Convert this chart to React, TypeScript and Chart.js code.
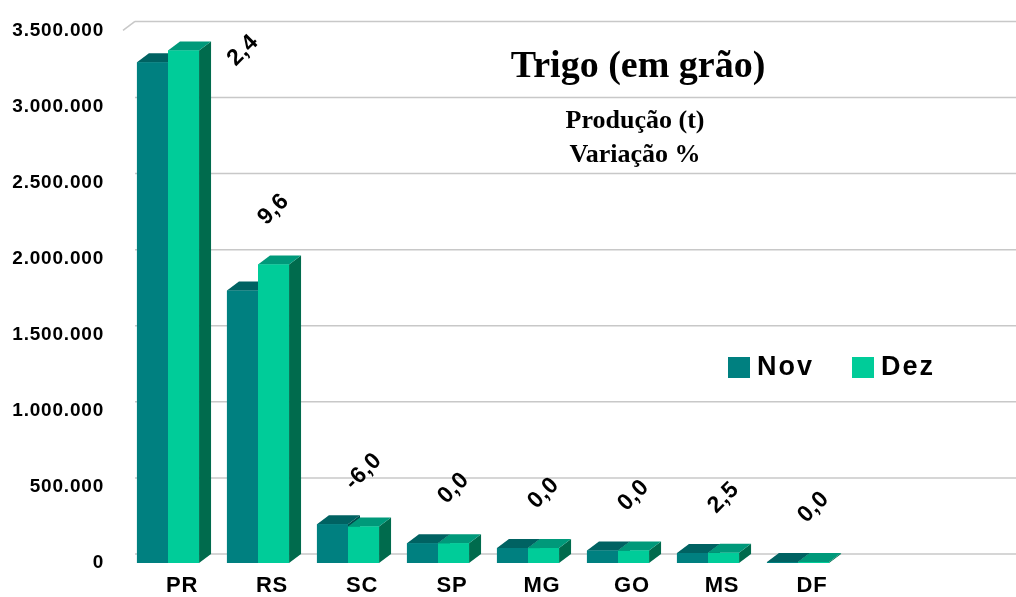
import React, { useEffect, useRef } from 'react';
import { Chart, registerables } from 'chart.js';

Chart.register(...registerables);

// ---------- data ----------
const categories = ['PR', 'RS', 'SC', 'SP', 'MG', 'GO', 'MS', 'DF'];
const novValues = [3290000, 1790000, 255000, 130000, 98000, 82000, 65000, 6000];
const dezValues = [3368000, 1962000, 240000, 130000, 98000, 82000, 67000, 6000];
const variationPct = [2.4, 9.6, -6.0, 0.0, 0.0, 0.0, 2.5, 0.0];
const seriesNames = ['Nov', 'Dez'];
const yMax = 3500000;
const yStep = 500000;
const titleText = 'Trigo (em grão)';
const subtitleLines = ['Produção (t)', 'Variação %'];

// ---------- styles ----------
const FRONT = ['#008080', '#00CC99'];
const TOP = ['#006262', '#00997A'];
const SIDE = ['#004D4D', '#006B4D'];
const DX = 12;
const DY = 9;
const SANS = '"Liberation Sans", Arial, sans-serif';
const SERIF = '"Liberation Serif", "Times New Roman", serif';

const fmtThousands = (v: number) =>
  String(Math.round(v)).replace(/\B(?=(\d{3})+(?!\d))/g, '.');
const fmtPct = (v: number) => v.toFixed(1).replace('.', ',');

const threeDPlugin = {
  id: 'threeD',
  beforeDraw(chart: any) {
    chart.ctx.letterSpacing = '0.8px';
  },
  beforeDatasetsDraw(chart: any) {
    const { ctx, chartArea } = chart;
    const y = chart.scales.y;
    ctx.save();
    ctx.strokeStyle = '#c8c8c8';
    ctx.lineWidth = 1.5;
    y.ticks.forEach((t: any) => {
      const py = y.getPixelForValue(t.value);
      ctx.beginPath();
      ctx.moveTo(chartArea.left + DX, py - DY);
      ctx.lineTo(chart.width, py - DY);
      ctx.stroke();
    });
    const pt = y.getPixelForValue(y.max);
    ctx.beginPath();
    ctx.moveTo(chartArea.left, pt);
    ctx.lineTo(chartArea.left + DX, pt - DY);
    ctx.stroke();
    ctx.restore();
  },
  afterDatasetsDraw(chart: any) {
    const { ctx, chartArea } = chart;
    ctx.save();
    for (let d = 0; d < chart.data.datasets.length; d++) {
      const meta = chart.getDatasetMeta(d);
      meta.data.forEach((el: any) => {
        const { x, y, base, width } = el.getProps(['x', 'y', 'base', 'width'], true);
        const l = x - width / 2;
        const r = x + width / 2;
        ctx.fillStyle = SIDE[d];
        ctx.beginPath();
        ctx.moveTo(r, y);
        ctx.lineTo(r + DX, y - DY);
        ctx.lineTo(r + DX, base - DY);
        ctx.lineTo(r, base);
        ctx.closePath();
        ctx.fill();
        ctx.fillStyle = TOP[d];
        ctx.beginPath();
        ctx.moveTo(l, y);
        ctx.lineTo(l + DX, y - DY);
        ctx.lineTo(r + DX, y - DY);
        ctx.lineTo(r, y);
        ctx.closePath();
        ctx.fill();
        ctx.fillStyle = FRONT[d];
        ctx.fillRect(l, y, width, base - y);
      });
    }
    const meta = chart.getDatasetMeta(1);
    ctx.fillStyle = '#000';
    ctx.font = `bold 23px ${SANS}`;
    ctx.letterSpacing = '0.5px';
    ctx.textAlign = 'center';
    ctx.textBaseline = 'middle';
    meta.data.forEach((el: any, i: number) => {
      const { x, y, width } = el.getProps(['x', 'y', 'width'], true);
      let lx = x;
      let ly = y - DY - 46;
      if (ly < chartArea.top + 10) {
        lx = x + width / 2 + DX + 32;
        ly = y;
      }
      ctx.save();
      ctx.translate(lx, ly);
      ctx.rotate(-Math.PI / 4);
      ctx.fillText(fmtPct(variationPct[i]), 0, 0);
      ctx.restore();
    });
    ctx.restore();
  },
  afterDraw(chart: any) {
    const { ctx } = chart;
    const W = chart.width;
    ctx.save();
    ctx.letterSpacing = '0px';
    ctx.fillStyle = '#000';
    ctx.textAlign = 'center';
    ctx.textBaseline = 'middle';
    ctx.font = `bold 38px ${SERIF}`;
    ctx.fillText(titleText, W * 0.628, 67);
    ctx.font = `bold 26px ${SERIF}`;
    subtitleLines.forEach((s, i) => ctx.fillText(s, W * 0.625, 121 + i * 34));

    let lx = 728;
    const ly = 367;
    ctx.textAlign = 'left';
    ctx.font = `bold 27px ${SANS}`;
    ctx.letterSpacing = '2px';
    seriesNames.forEach((name, i) => {
      ctx.fillStyle = FRONT[i];
      ctx.fillRect(lx, ly - 10, 22, 21);
      ctx.fillStyle = '#000';
      ctx.fillText(name, lx + 29, ly + 1);
      lx += 124;
    });
    ctx.restore();
  },
};

export default function App() {
  const ref = useRef<HTMLCanvasElement | null>(null);
  useEffect(() => {
    if (!ref.current) return;
    const chart = new Chart(ref.current, {
      type: 'bar',
      data: {
        labels: categories,
        datasets: [
          { label: seriesNames[0], data: novValues, backgroundColor: FRONT[0], borderWidth: 0 },
          { label: seriesNames[1], data: dezValues, backgroundColor: FRONT[1], borderWidth: 0 },
        ],
      },
      options: {
        responsive: false,
        animation: false,
        events: [],
        layout: { padding: { top: 25, right: 173, left: 0, bottom: 0 } },
        datasets: { bar: { categoryPercentage: 0.69, barPercentage: 1.0 } },
        plugins: {
          legend: { display: false },
          title: { display: false },
          tooltip: { enabled: false },
        },
        scales: {
          x: {
            grid: { display: false, drawTicks: false },
            border: { display: false },
            ticks: {
              color: '#000',
              font: { family: SANS, size: 22, weight: 'bold' },
              labelOffset: 14,
              padding: 10,
              maxRotation: 0,
            },
            afterFit: (s: any) => {
              s.height = 34;
            },
          },
          y: {
            min: 0,
            max: yMax,
            grid: { display: false, drawTicks: false },
            border: { display: false },
            ticks: {
              stepSize: yStep,
              color: '#000',
              font: { family: SANS, size: 19, weight: 'bold' },
              padding: 19,
              callback: (v: any) => fmtThousands(Number(v)),
            },
            afterFit: (s: any) => {
              s.width = 123;
            },
          },
        },
      },
      plugins: [threeDPlugin],
    });
    return () => chart.destroy();
  }, []);
  return (
    <div style={{ position: 'absolute', left: 0, top: 0, width: 1016, height: 597, background: '#fff' }}>
      <canvas ref={ref} width={1016} height={597} style={{ display: 'block' }} />
    </div>
  );
}
